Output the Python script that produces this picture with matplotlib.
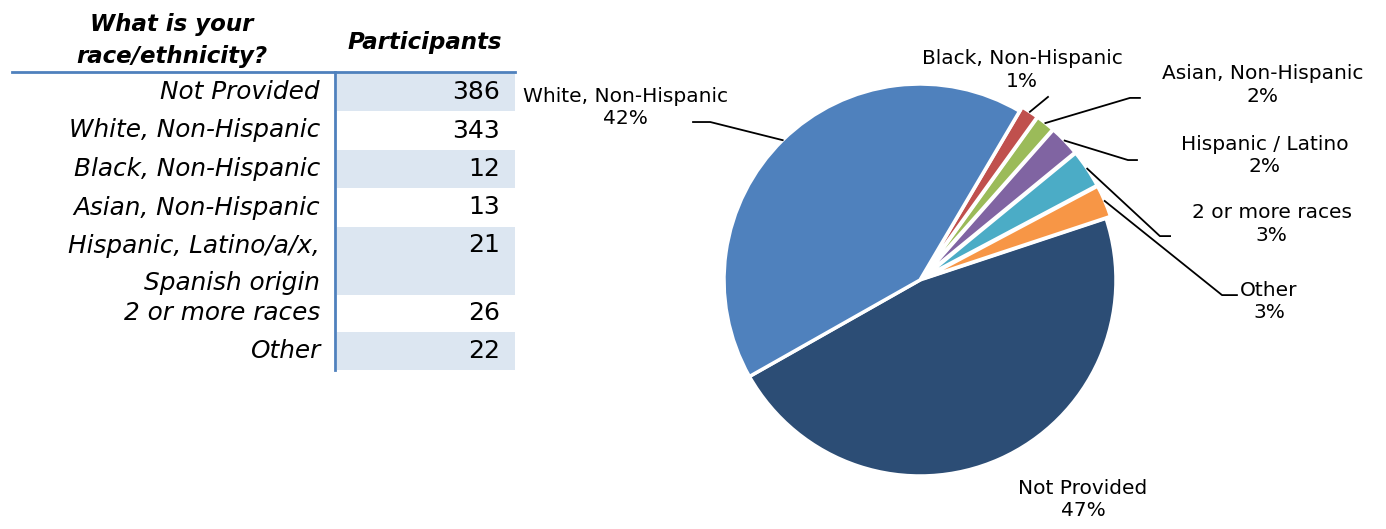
import matplotlib
matplotlib.use("Agg")
import matplotlib.pyplot as plt
import numpy as np
from matplotlib.patches import Rectangle
from matplotlib.lines import Line2D

# ---------------- data ----------------
table_header_q = "What is your\nrace/ethnicity?"
table_header_n = "Participants"
table_labels = ["Not Provided", "White, Non-Hispanic", "Black, Non-Hispanic",
                "Asian, Non-Hispanic", "Hispanic, Latino/a/x,\nSpanish origin",
                "2 or more races", "Other"]
table_values = [386, 343, 12, 13, 21, 26, 22]

# pie (counter-clockwise order from start angle)
pie_labels = ["Not Provided", "Other", "2 or more races", "Hispanic / Latino",
              "Asian, Non-Hispanic", "Black, Non-Hispanic", "White, Non-Hispanic"]
pie_values = [386, 22, 26, 21, 13, 12, 343]
pie_pct_labels = ["47%", "3%", "3%", "2%", "2%", "1%", "42%"]
pie_colors = ["#2C4D75", "#F79646", "#4BACC6", "#8064A2", "#9BBB59", "#C0504D", "#4F81BD"]

W, H = 1386, 529
fig = plt.figure(figsize=(W / 100, H / 100), dpi=100)

# ---------------- table (pixel-coordinate overlay) ----------------
tab = fig.add_axes([0, 0, 1, 1])
tab.set_xlim(0, W)
tab.set_ylim(H, 0)
tab.axis("off")

FONT = "DejaVu Sans"
row_tops = [73, 111, 150, 188, 227, 295, 332]
row_bots = [111, 150, 188, 227, 295, 332, 370]
shade = "#DCE6F1"
line_c = "#4F81BD"

for i, (lab, val) in enumerate(zip(table_labels, table_values)):
    top, bot = row_tops[i], row_bots[i]
    if i % 2 == 0:
        tab.add_patch(Rectangle((337, top), 178, bot - top, facecolor=shade,
                                edgecolor="none", zorder=1))
    if "\n" in lab:
        tab.text(320, top + 7, lab, ha="right", va="top", fontsize=17.8,
                 fontstyle="italic", family=FONT, linespacing=1.7, zorder=3)
        ty = top + 18
    else:
        ty = (top + bot) / 2
        tab.text(320, ty, lab, ha="right", va="center", fontsize=17.8,
                 fontstyle="italic", family=FONT, zorder=3)
    tab.text(500, ty, str(val), ha="right", va="center", fontsize=18,
             family=FONT, zorder=3)

tab.text(172, 41, table_header_q, ha="center", va="center", fontsize=16.5,
         fontweight="bold", fontstyle="italic", family=FONT, linespacing=1.5)
tab.text(425, 42, table_header_n, ha="center", va="center", fontsize=16.5,
         fontweight="bold", fontstyle="italic", family=FONT)
tab.add_line(Line2D([12, 515], [72, 72], color=line_c, lw=2, zorder=4))
tab.add_line(Line2D([335, 335], [72, 370], color=line_c, lw=2, zorder=4))

# ---------------- pie ----------------
cx, cy, R = 920, 280, 196
pax = fig.add_axes([(cx - R) / W, (H - cy - R) / H, 2 * R / W, 2 * R / H])
start = 209.5
explode = [0, 0.025, 0.025, 0.025, 0.025, 0.025, 0]
wedges, _ = pax.pie(pie_values, colors=pie_colors, startangle=start,
                    counterclock=True, explode=explode,
                    wedgeprops=dict(edgecolor="white", linewidth=2.5))
pax.set_xlim(-1, 1)
pax.set_ylim(-1, 1)
pax.set_aspect("auto")
pax.axis("off")
for w in wedges:
    w.set_clip_on(False)

# label layout (pie data coordinates): text centre, elbow point, line end
label_pos = {
    "White, Non-Hispanic": ((-1.505, 0.88), (-1.07, 0.806), (-1.158, 0.806)),
    "Black, Non-Hispanic": ((0.52, 1.07), (0.653, 0.934), None),
    "Asian, Non-Hispanic": ((1.75, 0.995), (1.071, 0.929), (1.122, 0.929)),
    "Hispanic / Latino": ((1.76, 0.635), (1.061, 0.612), (1.107, 0.612)),
    "2 or more races": ((1.795, 0.285), (1.224, 0.224), (1.276, 0.224)),
    "Other": ((1.78, -0.11), (1.541, -0.077), (1.617, -0.077)),
    "Not Provided": ((0.832, -1.12), None, None),
}
for w, lab, pct in zip(wedges, pie_labels, pie_pct_labels):
    (tx, ty), elbow, end = label_pos[lab]
    pax.text(tx, ty, lab + "\n" + pct, ha="center", va="center",
             fontsize=14.5, family="DejaVu Sans", linespacing=1.25)
    if elbow is not None:
        mid = np.deg2rad((w.theta1 + w.theta2) / 2)
        ox, oy = w.center
        ex, ey = ox + w.r * np.cos(mid), oy + w.r * np.sin(mid)
        xs = [ex, elbow[0]] + ([end[0]] if end else [])
        ys = [ey, elbow[1]] + ([end[1]] if end else [])
        pax.add_line(Line2D(xs, ys, color="black", lw=1.3, clip_on=False))

fig.savefig("out.png", dpi=100)
